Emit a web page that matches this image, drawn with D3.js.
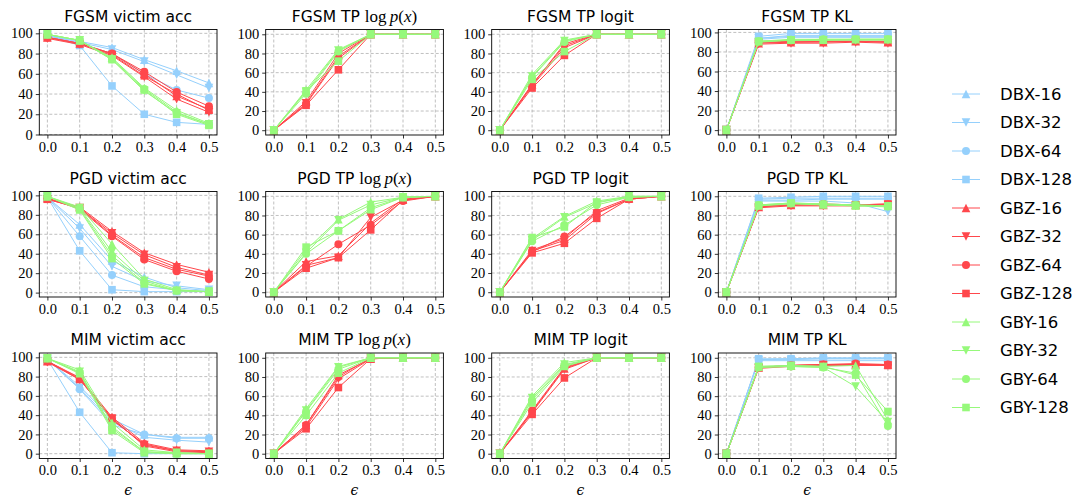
<!DOCTYPE html>
<html><head><meta charset="utf-8">
<script src="https://cdn.jsdelivr.net/npm/d3@7"></script>
<style>body{margin:0;background:#fff} svg{display:block}</style>
</head><body><svg id="c" width="1076" height="499"></svg>
<script>
// ---------- data ----------
const eps = [0, 0.1, 0.2, 0.3, 0.4, 0.5];
const xTickLabels = ["0.0", "0.1", "0.2", "0.3", "0.4", "0.5"];
const yTicks = [0, 20, 40, 60, 80, 100];
const seriesNames = ["DBX-16","DBX-32","DBX-64","DBX-128","GBZ-16","GBZ-32","GBZ-64","GBZ-128","GBY-16","GBY-32","GBY-64","GBY-128"];
const attacks = ["FGSM", "PGD", "MIM"];
const metrics = ["victim acc", "TP log p(x)", "TP logit", "TP KL"];

// each array: one row per series (order of seriesNames); null = series not plotted
const FGSM_ACC = [
  [98,92,86,74,63,51],[98,91,84,72,59,46],[98,90,80,60,44,36],[98,88,48,20,12,10],
  [96,90,80,60,38,25],[95,89,78,57,35,22],[96,90,80,62,42,28],[96,90,79,58,40,24],
  [99,93,76,46,24,11],[99,93,74,43,21,10],[99,93,75,45,22,10],[99,93,74,44,20,9]];
const FGSM_LOGP = [null,null,null,null,
  [0,30,80,100,100,100],[0,28,77,100,100,100],[0,27,75,100,100,100],[0,26,63,100,100,100],
  [0,42,84,100,100,100],[0,40,83,100,100,100],[0,38,82,100,100,100],[0,41,72,100,100,100]];
const FGSM_LOGIT = [null,null,null,null,
  [0,48,88,100,100,100],[0,46,86,100,100,100],[0,47,90,100,100,100],[0,44,78,100,100,100],
  [0,58,94,100,100,100],[0,56,93,100,100,100],[0,55,92,100,100,100],[0,53,82,100,100,100]];
const FGSM_KL = [
  [0,93,95,95,95,95],[0,94,96,96,96,96],[0,94,97,97,97,97],[0,96,99,99,99,99],
  [0,89,90,90,91,90],[0,88,89,89,90,89],[0,90,90,91,91,91],[0,90,91,91,91,90],
  [0,91,93,93,93,93],[0,90,92,92,92,92],[0,91,92,93,93,93],[0,91,92,92,93,93]];
const PGD_ACC = [
  [98,70,33,16,5,2],[98,66,27,12,7,3],[98,58,18,6,3,1],[98,43,3,1,1,1],
  [97,88,63,41,29,21],[96,87,61,39,26,18],[97,86,58,34,22,14],[96,87,59,36,24,17],
  [99,88,50,14,3,1],[99,87,42,12,2,1],[99,86,38,10,2,1],[99,85,35,9,2,1]];
const PGD_LOGP = [null,null,null,null,
  [0,32,38,72,97,100],[0,28,36,78,96,100],[0,27,50,70,95,100],[0,25,36,65,96,100],
  [0,44,76,94,99,100],[0,41,75,91,99,100],[0,40,64,88,99,100],[0,47,64,86,99,100]];
const PGD_LOGIT = [null,null,null,null,
  [0,44,56,85,98,100],[0,43,54,82,97,100],[0,42,58,83,97,100],[0,41,51,77,97,100],
  [0,56,79,95,100,100],[0,54,78,93,100,100],[0,53,70,91,99,100],[0,57,68,94,99,100]];
const PGD_KL = [
  [0,96,96,97,97,97],[0,95,95,95,93,84],[0,97,98,98,98,98],[0,98,99,100,100,100],
  [0,89,91,91,91,92],[0,88,90,90,90,91],[0,90,91,92,91,91],[0,89,91,91,91,92],
  [0,91,93,92,91,90],[0,90,92,91,90,89],[0,91,93,92,91,90],[0,90,93,91,90,90]];
const MIM_ACC = [
  [98,70,36,20,17,17],[98,68,33,17,14,12],[98,67,30,20,16,16],[98,43,1,0,0,0],
  [96,79,38,11,4,3],[95,77,36,9,3,2],[96,78,35,10,3,2],[96,77,37,8,2,1],
  [99,87,32,4,1,0],[99,85,28,2,1,0],[99,84,26,2,0,0],[99,83,24,1,0,0]];
const MIM_LOGP = [null,null,null,null,
  [0,30,82,99,100,100],[0,28,78,99,100,100],[0,30,80,100,100,100],[0,26,69,99,100,100],
  [0,47,91,100,100,100],[0,45,90,100,100,100],[0,44,88,100,100,100],[0,40,84,100,100,100]];
const MIM_LOGIT = [null,null,null,null,
  [0,44,89,100,100,100],[0,43,88,100,100,100],[0,45,90,100,100,100],[0,41,79,100,100,100],
  [0,60,95,100,100,100],[0,58,93,100,100,100],[0,56,92,100,100,100],[0,53,91,100,100,100]];
const MIM_KL = [
  [0,98,98,99,99,99],[0,97,97,97,97,97],[0,98,99,99,99,99],[0,99,99,100,100,100],
  [0,90,92,93,93,93],[0,89,91,92,92,92],[0,90,92,93,94,93],[0,90,92,93,93,92],
  [0,91,92,91,92,35],[0,90,91,90,70,33],[0,90,91,90,84,29],[0,91,92,91,82,44]];

const panelData = [
  [FGSM_ACC, FGSM_LOGP, FGSM_LOGIT, FGSM_KL],
  [PGD_ACC, PGD_LOGP, PGD_LOGIT, PGD_KL],
  [MIM_ACC, MIM_LOGP, MIM_LOGIT, MIM_KL]];

// ---------- layout / style ----------
const yDomains = [
  [[-0.5,103.8],[-5,105],[-5,105],[-5,103]],
  [[-4.5,104],[-5,105],[-5,105],[-5,105]],
  [[-5,104.5],[-5,105],[-5,105],[-5,105]]];
const colLeft = [39.3, 265.7, 491.7, 718.3];
const rowTop = [29.5, 191.5, 353];
const pw = 177.7, ph = 105.5;
const groupColor = {DBX: "#95d0fc", GBZ: "#ff474c", GBY: "#96f97b"};
const serifFont = "'Liberation Serif', 'DejaVu Serif', serif";
const sansFont = "'DejaVu Sans', sans-serif";

function markerPath(name) {
  const size = name.split("-")[1];
  if (size === "16") { const s = 4.3; return `M0,${-s}L${s},${s}L${-s},${s}Z`; }
  if (size === "32") { const s = 4.3; return `M0,${s}L${s},${-s}L${-s},${-s}Z`; }
  if (size === "64") { return d3.symbol(d3.symbolCircle, Math.PI * 4 * 4)(); }
  return d3.symbol(d3.symbolSquare, 7.6 * 7.6)();
}
const colorOf = n => groupColor[n.split("-")[0]];

const svg = d3.select("#c");

function addTitle(g, attack, metric, cx) {
  const t = g.append("text").attr("x", cx).attr("y", -8).attr("text-anchor", "middle")
    .attr("font-family", sansFont).attr("font-size", 15.5).attr("fill", "#000");
  if (metric === "TP log p(x)") {
    t.append("tspan").text(attack + " TP ");
    t.append("tspan").attr("font-family", serifFont).attr("font-size", 17).text("log\u2009");
    t.append("tspan").attr("font-family", serifFont).attr("font-size", 17).attr("font-style", "italic").text("p");
    t.append("tspan").attr("font-family", serifFont).attr("font-size", 17).text("(");
    t.append("tspan").attr("font-family", serifFont).attr("font-size", 17).attr("font-style", "italic").text("x");
    t.append("tspan").attr("font-family", serifFont).attr("font-size", 17).text(")");
  } else {
    t.text(attack + " " + metric);
  }
}

attacks.forEach((attack, r) => {
  metrics.forEach((metric, c) => {
    const g = svg.append("g").attr("transform", `translate(${colLeft[c]},${rowTop[r]})`);
    const x = d3.scaleLinear().domain([-0.025, 0.525]).range([0, pw]);
    const y = d3.scaleLinear().domain(yDomains[r][c]).range([ph, 0]);

    // grid
    const grid = g.append("g");
    eps.forEach(v => grid.append("line").attr("x1", x(v)).attr("x2", x(v)).attr("y1", 0).attr("y2", ph));
    yTicks.forEach(v => grid.append("line").attr("x1", 0).attr("x2", pw).attr("y1", y(v)).attr("y2", y(v)));
    grid.selectAll("line").attr("stroke", "#b0b0b0").attr("stroke-width", 0.8).attr("stroke-dasharray", "3,2");

    // axes
    const xa = g.append("g").attr("transform", `translate(0,${ph})`)
      .call(d3.axisBottom(x).tickValues(eps).tickFormat((d, i) => xTickLabels[i]).tickSize(3.5).tickPadding(3));
    const ya = g.append("g")
      .call(d3.axisLeft(y).tickValues(yTicks).tickSize(3.5).tickPadding(3));
    [xa, ya].forEach(a => {
      a.select(".domain").remove();
      a.selectAll("text").attr("font-family", serifFont).attr("font-size", 14.5).attr("fill", "#000");
      a.selectAll("line").attr("stroke", "#000").attr("stroke-width", 0.8);
    });

    // series
    const data = panelData[r][c];
    const line = d3.line().x((d, i) => x(eps[i])).y(d => y(d));
    const marks = g.append("g");
    seriesNames.forEach((name, si) => {
      const vals = data[si];
      if (!vals) return;
      const col = colorOf(name);
      marks.append("path").attr("d", line(vals)).attr("fill", "none")
        .attr("stroke", col).attr("stroke-width", 1);
      const mp = markerPath(name);
      vals.forEach((v, i) => {
        marks.append("path").attr("d", mp)
          .attr("transform", `translate(${x(eps[i])},${y(v)})`).attr("fill", col);
      });
    });

    // frame
    g.append("rect").attr("width", pw).attr("height", ph).attr("fill", "none")
      .attr("stroke", "#000").attr("stroke-width", 0.9);

    addTitle(g, attack, metric, pw / 2);
    if (r === 2) {
      g.append("text").attr("x", pw / 2).attr("y", ph + 36).attr("text-anchor", "middle")
        .attr("font-family", "'DejaVu Serif', serif").attr("font-style", "italic")
        .attr("font-size", 14).text("\u03f5");
    }
  });
});

// legend
const lg = svg.append("g").attr("transform", "translate(952,94)");
seriesNames.forEach((name, i) => {
  const yy = i * 28.5;
  const col = colorOf(name);
  lg.append("line").attr("x1", 0).attr("x2", 28).attr("y1", yy).attr("y2", yy)
    .attr("stroke", col).attr("stroke-width", 1);
  lg.append("path").attr("d", markerPath(name)).attr("transform", `translate(14,${yy})`).attr("fill", col);
  lg.append("text").attr("x", 48).attr("y", yy).attr("dy", "0.35em")
    .attr("font-family", sansFont).attr("font-size", 16.5).attr("fill", "#000").text(name);
});
</script>
</body></html>
